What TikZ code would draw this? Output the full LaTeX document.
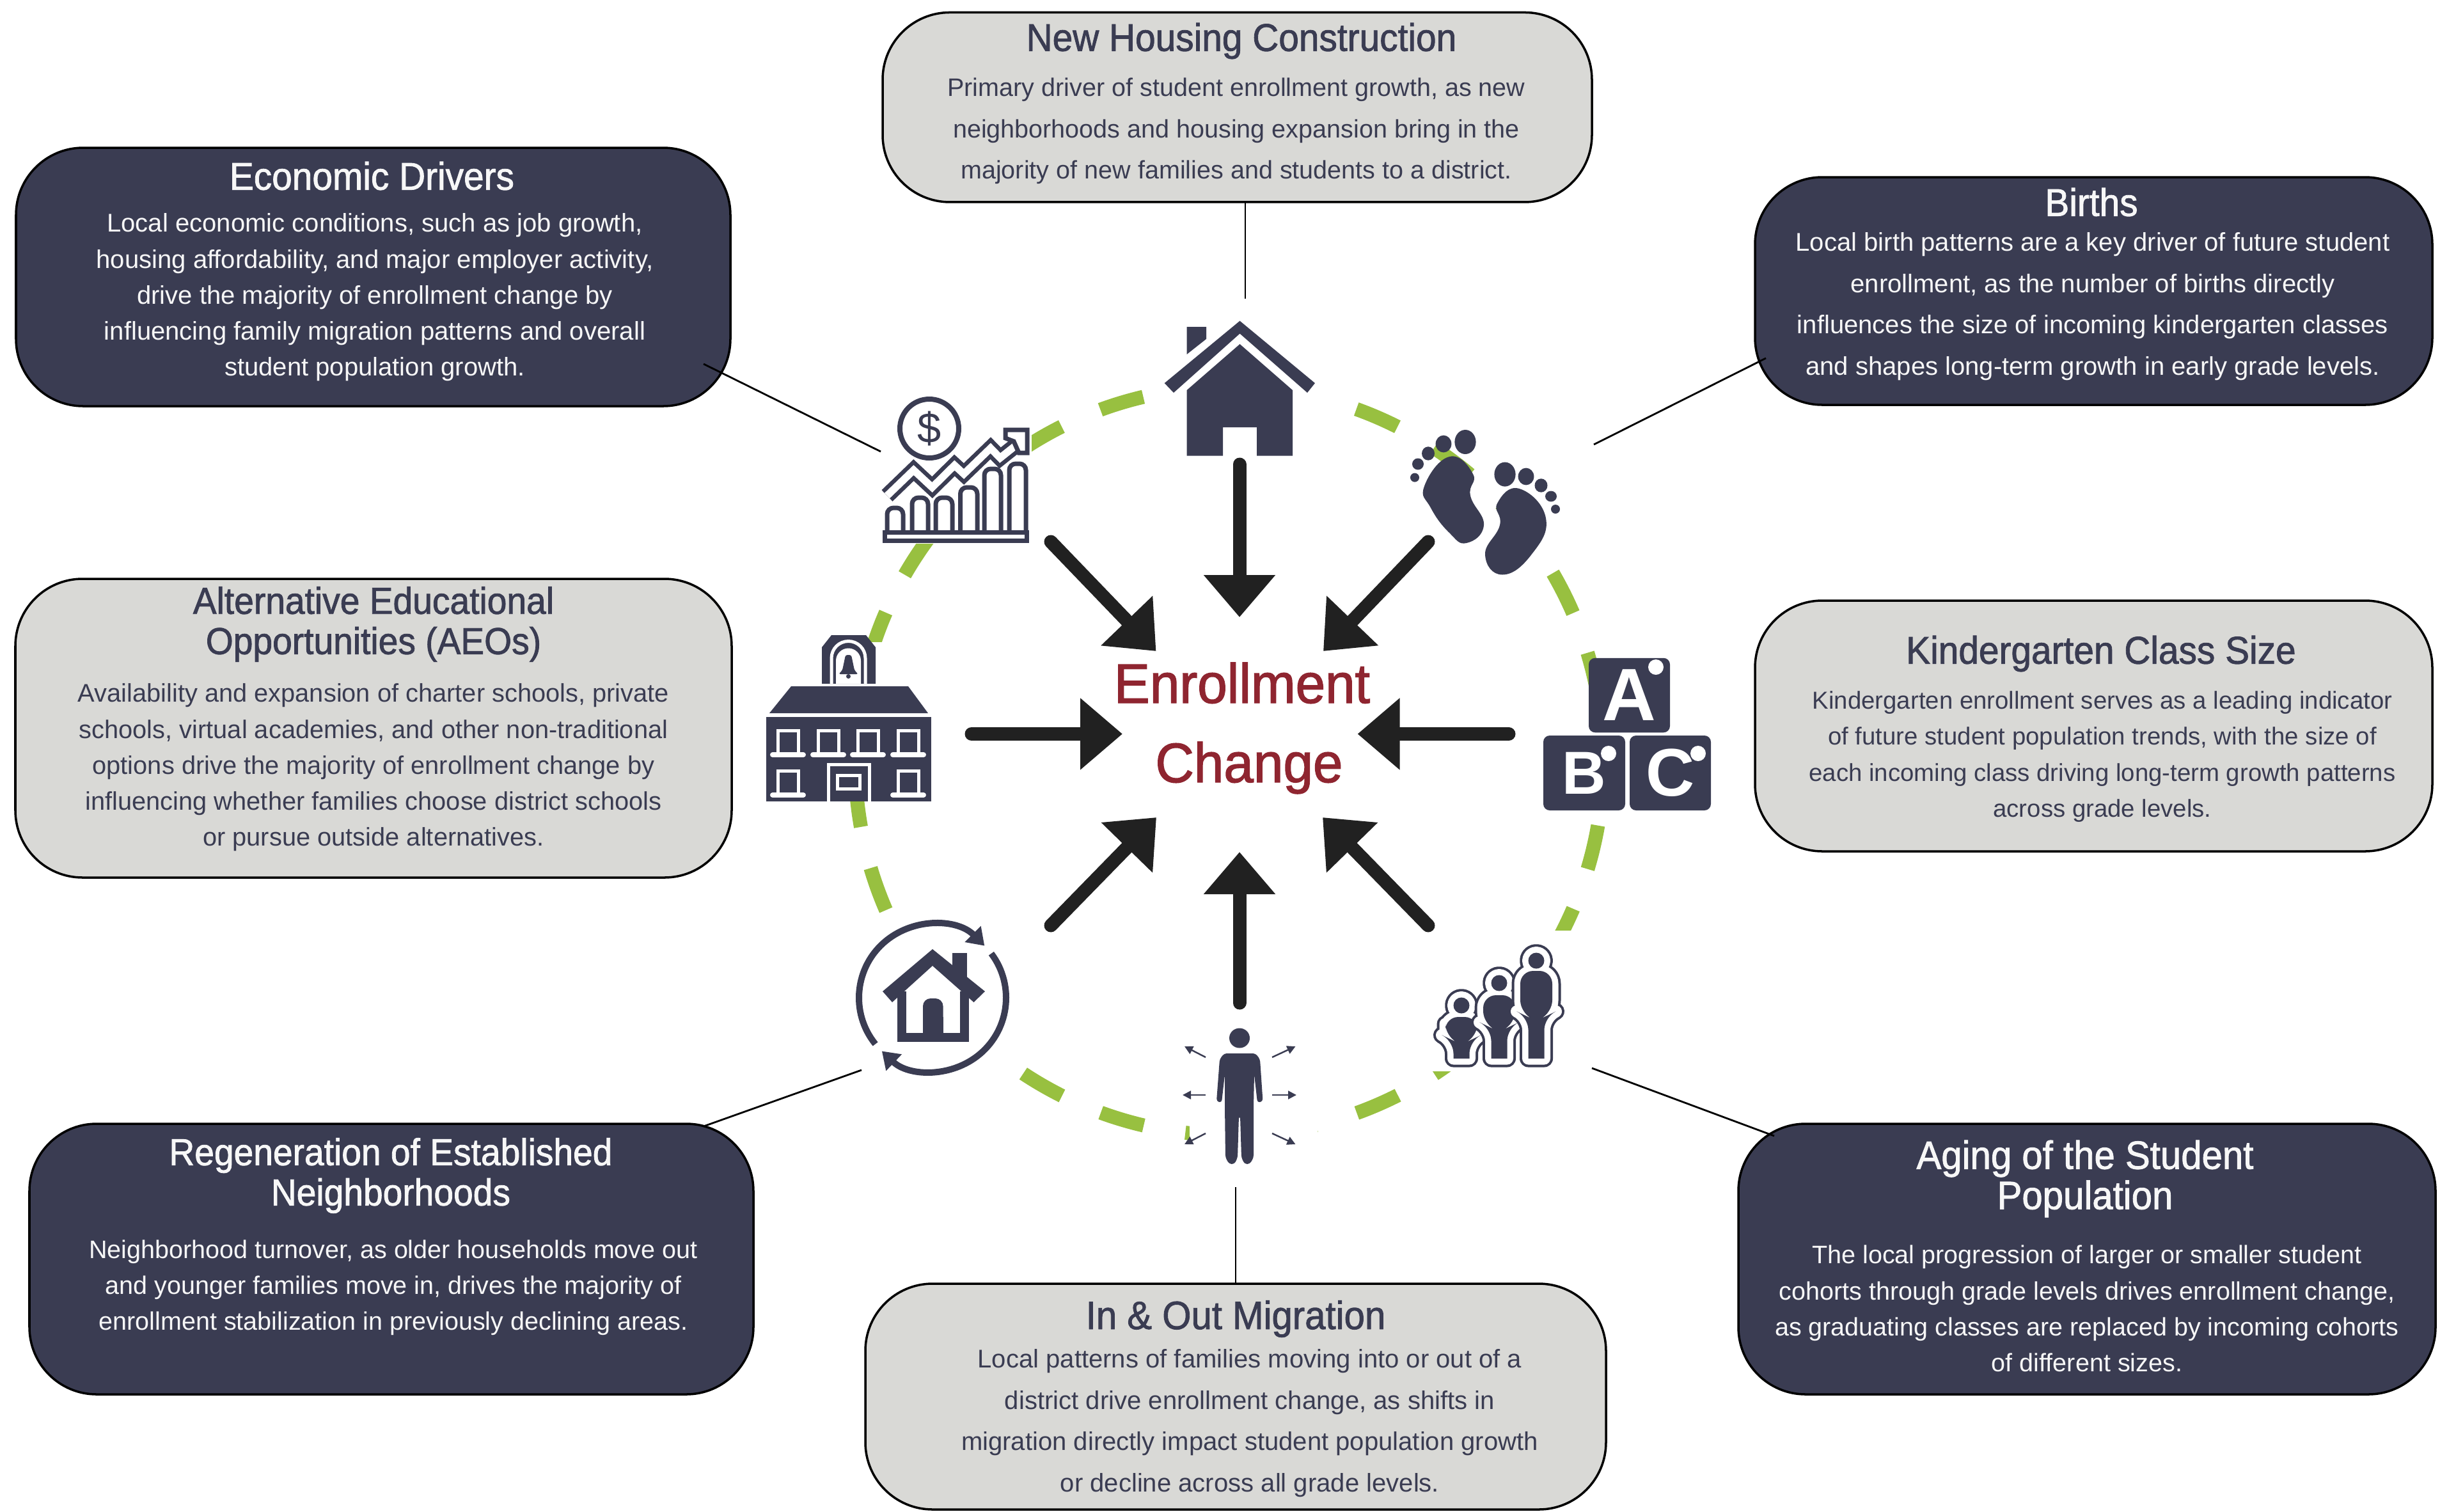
\documentclass[tikz,border=0pt]{standalone}
\usepackage{fontspec}
\setmainfont{Liberation Sans}
\newfontfamily\headfont[FakeStretch=.94,FakeBold=1.4]{Liberation Sans}
\newfontfamily\centrefont[FakeStretch=.96,FakeBold=1.6]{Liberation Sans}
\usetikzlibrary{arrows.meta}
\definecolor{navy}{HTML}{3A3C52}
\definecolor{paleplate}{HTML}{D9D9D6}
\definecolor{ringgreen}{HTML}{98C040}
\definecolor{arrowblack}{HTML}{212121}
\definecolor{wine}{HTML}{8F2530}
\definecolor{paper}{HTML}{F7F7F7}
\tikzset{
  darkbox/.style={draw=black,line width=1pt,fill=navy,rounded corners=1.05cm,inner sep=0},
  lightbox/.style={draw=black,line width=1pt,fill=paleplate,rounded corners=1.05cm,inner sep=0},
  boxtitle/.style={inner sep=0,align=center,font=\headfont\fontsize{#1}{17.9}\selectfont},
  boxtitle/.default=17.2,
  boxbody/.style={inner sep=0,align=center,font=\fontsize{#1}{16}\selectfont},
  boxbody/.default=11.25,
  wideleading/.style={inner sep=0,align=center,font=\fontsize{#1}{18.4}\selectfont},
  wideleading/.default=11.25,
  iconback/.style={fill=white,inner sep=0},
  bigarrow/.style={draw=arrowblack,line width=.21cm,line cap=round,-{Triangle[width=1.08cm,length=.66cm]}},
  wirelink/.style={draw=black,line width=.8pt},
  smallarrow/.style={draw=navy,line width=.7pt,-{Triangle[width=.13cm,length=.13cm]}},
  blockbox/.style={fill=navy,rounded corners=.1cm,inner sep=0,text=white}
}
\newcommand{\famshape}[4]{(#1,#2) circle (.125) (#1-.125,16.55) [rounded corners=.2cm] -- (#1-.125,#4) -- (#1-.25,#4-.06) -- (#1-.25,#3) -- (#1+.25,#3) -- (#1+.25,#4-.06) -- (#1+.125,#4) [sharp corners] -- (#1+.125,16.55) -- cycle}
\begin{document}
\begin{tikzpicture}[yscale=-1]
  \useasboundingbox (0,0) rectangle (38.15,23.63);

  \coordinate (ringcentre) at (19.22,11.90);
  \draw[ringgreen,line width=.22cm,dash pattern=on .70cm off .6613cm,dash phase=.35cm] (ringcentre) circle (5.85);

  % house
  \node[iconback,minimum width=2.47cm,minimum height=2.21cm] (houseicon) at (19.385,6.055) {};
  \fill[navy] (18.556,7.125) -- (18.556,6.10) -- (19.385,5.38) -- (20.21,6.10) -- (20.21,7.125) -- (19.65,7.125) -- (19.65,6.68) -- (19.12,6.68) -- (19.12,7.125) -- cycle;
  \fill[navy] (19.385,5.017) -- (20.56,5.99) -- (20.44,6.14) -- (19.385,5.216) -- (18.35,6.14) -- (18.207,5.99) -- cycle;
  \fill[navy] (18.556,5.11) -- (18.86,5.11) -- (18.86,5.30) -- (18.556,5.54) -- cycle;

  % finance chart
  \node[iconback,minimum width=2.33cm,minimum height=2.35cm] (financeicon) at (14.965,7.325) {};
  \draw[navy,line width=.08cm] (14.53,6.70) circle (.46);
  \node[text=navy,inner sep=0,font=\fontsize{19}{19}\selectfont] (dollarsign) at (14.53,6.70) {\$};
  \draw[navy,line width=.065cm,double=white,double distance=.115cm,line join=miter] (13.87,7.75) -- (14.285,7.35) -- (14.575,7.62) -- (14.924,7.275) -- (15.07,7.41) -- (15.488,7.007) -- (15.637,7.16) -- (15.90,6.95);
  \draw[navy,fill=white,line width=.07cm] (15.72,6.72) -- (16.06,6.72) -- (16.06,7.08) -- (15.93,7.08) -- (15.85,6.90) -- (15.72,6.85) -- cycle;
  \foreach \barl/\barr/\bartop in {13.87/14.12/7.94, 14.26/14.51/7.78, 14.63/14.89/7.78, 15.015/15.28/7.62, 15.39/15.65/7.33, 15.78/16.04/7.25}
    \draw[navy,line width=.07cm,rounded corners=.1cm] (\barl,8.29) -- (\barl,\bartop) -- (\barr,\bartop) -- (\barr,8.29);
  \fill[navy] (13.80,8.29) rectangle (16.09,8.49);
  \fill[white] (13.87,8.36) rectangle (16.02,8.42);

  % footprints
  \fill[navy] plot[smooth cycle,tension=.8] coordinates {(22.66,7.14) (23.03,7.41) (22.99,7.75) (23.20,8.21) (22.93,8.49) (22.66,8.33) (22.37,7.94) (22.27,7.60)};
  \fill[navy] plot[smooth cycle,tension=.8] coordinates {(23.755,7.64) (24.17,8.10) (23.945,8.67) (23.49,8.985) (23.22,8.67) (23.45,8.21) (23.41,7.87)};
  \foreach \toex/\toey/\toerx/\toery in {22.91/6.91/.166/.19, 22.57/6.94/.124/.134, 22.33/7.09/.10/.107, 22.17/7.255/.09/.09, 22.12/7.466/.07/.07,
      23.53/7.416/.166/.19, 23.86/7.45/.124/.134, 24.095/7.59/.10/.107, 24.25/7.76/.09/.084, 24.32/7.96/.07/.07}
    \fill[navy] (\toex,\toey) ellipse [x radius=\toerx,y radius=\toery];

  % school
  \node[iconback,minimum width=2.58cm,minimum height=2.49cm] (schoolicon) at (13.27,11.285) {};
  \fill[navy] (12.85,10.69) -- (12.85,10.12) -- (13.0,9.93) -- (13.54,9.93) -- (13.69,10.12) -- (13.69,10.69) -- cycle;
  \draw[white,line width=.05cm] (13.0,10.69) -- (13.0,10.29) arc[start angle=180,end angle=360,radius=.265] -- (13.53,10.69);
  \fill[white] (13.07,10.69) -- (13.07,10.33) arc[start angle=180,end angle=360,radius=.195] -- (13.46,10.69) -- cycle;
  \fill[navy,rounded corners=.03cm] (13.22,10.24) -- (13.31,10.24) -- (13.36,10.48) -- (13.42,10.54) -- (13.11,10.54) -- (13.17,10.48) -- cycle;
  \fill[navy] (13.265,10.575) circle (.035);
  \fill[navy] (12.37,10.73) -- (14.20,10.73) -- (14.51,11.15) -- (12.03,11.15) -- cycle;
  \fill[navy] (11.98,11.205) rectangle (14.56,12.525);
  \foreach \winx/\winy in {12.32/11.42, 12.95/11.42, 13.57/11.42, 14.20/11.42, 12.32/12.05, 14.20/12.05} {
    \draw[white,line width=.05cm] (\winx-.16,\winy+.38) -- (\winx-.16,\winy) -- (\winx+.16,\winy) -- (\winx+.16,\winy+.38);
    \draw[white,line width=.08cm,line cap=round] (\winx-.24,\winy+.38) -- (\winx+.24,\winy+.38);
  }
  \draw[white,line width=.05cm] (12.95,12.525) -- (12.95,11.95) -- (13.59,11.95) -- (13.59,12.525);
  \draw[white,line width=.05cm] (13.09,12.12) rectangle (13.44,12.33);

  % abc blocks
  \node[blockbox,minimum width=1.27cm,minimum height=1.165cm,font=\bfseries\fontsize{33}{33}\selectfont] (blocka) at (25.475,10.87) {A};
  \node[blockbox,minimum width=1.28cm,minimum height=1.17cm,font=\bfseries\fontsize{27}{27}\selectfont] (blockb) at (24.77,12.085) {B};
  \node[blockbox,minimum width=1.27cm,minimum height=1.17cm,font=\bfseries\fontsize{30}{30}\selectfont] (blockc) at (26.115,12.085) {C};
  \fill[white] (25.89,10.43) circle (.12);
  \fill[white] (25.15,11.78) circle (.12);
  \fill[white] (26.55,11.78) circle (.12);

  % regeneration
  \node[iconback,minimum width=2.35cm,minimum height=2.40cm] (regenicon) at (14.575,15.60) {};
  \coordinate (regencentre) at (14.58,15.60);
  \draw[navy,line width=.10cm,-{Triangle[width=.34cm,length=.26cm]}] (regencentre) ++(-219:1.15) arc[start angle=-219,end angle=-45,radius=1.15];
  \draw[navy,line width=.10cm,-{Triangle[width=.34cm,length=.26cm]}] (regencentre) ++(-37:1.15) arc[start angle=-37,end angle=133.5,radius=1.15];
  \fill[navy] (14.89,14.90) rectangle (15.12,15.45);
  \fill[white] (14.58,15.02) -- (15.45,15.72) -- (15.0,15.8) -- (14.2,15.8) -- (13.72,15.72) -- cycle;
  \fill[navy] (14.58,14.84) -- (15.40,15.50) -- (15.225,15.67) -- (14.58,15.10) -- (13.95,15.67) -- (13.80,15.50) -- cycle;
  \draw[navy,line width=.14cm] (14.10,15.50) -- (14.10,16.22) -- (15.08,16.22) -- (15.08,15.50);
  \fill[navy,rounded corners=.12cm] (14.43,16.18) -- (14.43,15.61) -- (14.745,15.61) -- (14.745,16.18) -- cycle;
  \fill[navy] (14.43,15.9) rectangle (14.745,16.18);

  % person
  \node[iconback,minimum width=2.0cm,minimum height=2.3cm] (personicon) at (19.6,17.15) {};
  \fill[navy] (19.38,16.23) ellipse [x radius=.16,y radius=.155];
  \fill[navy,rounded corners=.04cm] (19.14,16.47) -- (19.63,16.47) -- (19.70,16.56) -- (19.745,17.22) -- (19.66,17.24) -- (19.61,16.80) -- (19.60,17.30) -- (19.60,18.10) -- (19.54,18.20) -- (19.46,18.20) -- (19.41,18.10) -- (19.39,17.45) -- (19.37,17.45) -- (19.35,18.10) -- (19.30,18.20) -- (19.22,18.20) -- (19.16,18.10) -- (19.15,17.30) -- (19.15,16.80) -- (19.10,17.24) -- (19.02,17.22) -- (19.07,16.56) -- cycle;
  \foreach \sfx/\sfy/\stx/\sty [count=\sn] in {18.85/17.12/18.49/17.12, 19.89/17.12/20.27/17.12, 18.85/16.53/18.52/16.36, 19.89/16.53/20.255/16.36, 18.85/17.72/18.52/17.89, 19.89/17.72/20.255/17.89} {
    \coordinate (sfrom\sn) at (\sfx,\sfy);
    \coordinate (sto\sn) at (\stx,\sty);
    \draw[smallarrow] (sfrom\sn) -- (sto\sn);
  }

  % family
  \node[iconback,minimum width=2.35cm,minimum height=2.2cm] (familyicon) at (23.525,15.65) {};
  \foreach \famx/\famh/\famt/\famb in {22.85/15.72/15.90/16.27, 23.44/15.37/15.56/16.07, 24.02/15.02/15.18/15.90} {
    \draw[navy,line width=.27cm,line join=round] \famshape{\famx}{\famh}{\famt}{\famb};
    \draw[white,line width=.19cm,line join=round] \famshape{\famx}{\famh}{\famt}{\famb};
    \fill[navy] \famshape{\famx}{\famh}{\famt}{\famb};
  }

  % centre
  \node[text=wine,anchor=base,inner sep=0,font=\centrefont\fontsize{24.8}{24.8}\selectfont] (enrolltext) at (19.42,10.99) {Enrollment};
  \node[text=wine,anchor=base,inner sep=0,font=\centrefont\fontsize{24.8}{24.8}\selectfont] (changetext) at (19.53,12.23) {Change};

  \coordinate (fromhouse) at (19.38,7.26);
  \coordinate (tohouse) at (19.38,9.65);
  \coordinate (fromfinance) at (16.43,8.47);
  \coordinate (tofinance) at (18.075,10.18);
  \coordinate (fromfeet) at (22.33,8.47);
  \coordinate (tofeet) at (20.69,10.18);
  \coordinate (fromschool) at (15.19,11.475);
  \coordinate (toschool) at (17.55,11.475);
  \coordinate (fromblocks) at (23.59,11.475);
  \coordinate (toblocks) at (21.225,11.475);
  \coordinate (fromregen) at (16.43,14.47);
  \coordinate (toregen) at (18.08,12.78);
  \coordinate (fromfamily) at (22.33,14.47);
  \coordinate (tofamily) at (20.68,12.78);
  \coordinate (fromperson) at (19.38,15.68);
  \coordinate (toperson) at (19.38,13.32);
  \draw[bigarrow] (fromhouse) -- (tohouse);
  \draw[bigarrow] (fromfinance) -- (tofinance);
  \draw[bigarrow] (fromfeet) -- (tofeet);
  \draw[bigarrow] (fromschool) -- (toschool);
  \draw[bigarrow] (fromblocks) -- (toblocks);
  \draw[bigarrow] (fromregen) -- (toregen);
  \draw[bigarrow] (fromfamily) -- (tofamily);
  \draw[bigarrow] (fromperson) -- (toperson);

  % boxes
  \node[lightbox,minimum width=11.09cm,minimum height=2.965cm] (housingbox) at (19.345,1.677) {};
  \node[boxtitle,text=navy] (housingtitle) at (19.41,.64) {New Housing Construction};
  \node[wideleading,text=navy] (housingbody) at (19.33,2.05) {Primary driver of student enrollment growth, as new\\neighborhoods and housing expansion bring in the\\majority of new families and students to a district.};

  \node[darkbox,minimum width=11.17cm,minimum height=4.04cm] (econbox) at (5.835,4.33) {};
  \node[boxtitle,text=paper] (econtitle) at (5.815,2.75) {Economic Drivers};
  \node[boxbody=11.4,text=paper] (econbody) at (5.86,4.65) {Local economic conditions, such as job growth,\\housing affordability, and major employer activity,\\drive the majority of enrollment change by\\influencing family migration patterns and overall\\student population growth.};

  \node[darkbox,minimum width=10.59cm,minimum height=3.56cm] (birthbox) at (32.735,4.55) {};
  \node[boxtitle,text=paper] (birthtitle) at (32.70,3.16) {Births};
  \node[wideleading=11.4,text=paper] (birthbody) at (32.72,4.79) {Local birth patterns are a key driver of future student\\enrollment, as the number of births directly\\influences the size of incoming kindergarten classes\\and shapes long-term growth in early grade levels.};

  \node[lightbox,minimum width=11.20cm,minimum height=4.67cm] (aeobox) at (5.84,11.385) {};
  \node[boxtitle=16.7,text=navy] (aeotitle) at (5.84,9.76) {Alternative Educational\\Opportunities (AEOs)};
  \node[boxbody=11.33,text=navy] (aeobody) at (5.84,12.00) {Availability and expansion of charter schools, private\\schools, virtual academies, and other non-traditional\\options drive the majority of enrollment change by\\influencing whether families choose district schools\\or pursue outside alternatives.};

  \node[lightbox,minimum width=10.59cm,minimum height=3.92cm] (kinderbox) at (32.735,11.35) {};
  \node[boxtitle,text=navy] (kindertitle) at (32.85,10.22) {Kindergarten Class Size};
  \node[boxbody=10.92,text=navy] (kinderbody) at (32.87,11.83) {Kindergarten enrollment serves as a leading indicator\\of future student population trends, with the size of\\each incoming class driving long-term growth patterns\\across grade levels.};

  \node[darkbox,minimum width=11.32cm,minimum height=4.23cm] (regenbox) at (6.12,19.685) {};
  \node[boxtitle=16.7,text=paper] (regentitle) at (6.11,18.38) {Regeneration of Established\\Neighborhoods};
  \node[boxbody,text=paper] (regenbody) at (6.15,20.13) {Neighborhood turnover, as older households move out\\and younger families move in, drives the majority of\\enrollment stabilization in previously declining areas.};

  \node[darkbox,minimum width=10.90cm,minimum height=4.23cm] (agingbox) at (32.63,19.685) {};
  \node[boxtitle=17.6,text=paper] (agingtitle) at (32.60,18.43) {Aging of the Student\\Population};
  \node[boxbody,text=paper] (agingbody) at (32.63,20.46) {The local progression of larger or smaller student\\cohorts through grade levels drives enrollment change,\\as graduating classes are replaced by incoming cohorts\\of different sizes.};

  \node[lightbox,minimum width=11.58cm,minimum height=3.53cm] (migrationbox) at (19.32,21.835) {};
  \node[boxtitle=17.6,text=navy] (migrationtitle) at (19.32,20.62) {In \& Out Migration};
  \node[wideleading=11.4,text=navy] (migrationbody) at (19.54,22.25) {Local patterns of families moving into or out of a\\district drive enrollment change, as shifts in\\migration directly impact student population growth\\or decline across all grade levels.};

  % links
  \coordinate (houselink) at (19.47,4.67);
  \coordinate (housinglink) at (19.47,3.16);
  \coordinate (financelink) at (13.77,7.06);
  \coordinate (econlink) at (11.00,5.69);
  \coordinate (feetlink) at (24.92,6.95);
  \coordinate (birthlink) at (27.61,5.60);
  \coordinate (regeniconlink) at (13.47,16.73);
  \coordinate (regenlink) at (11.00,17.61);
  \coordinate (familylink) at (24.89,16.70);
  \coordinate (aginglink) at (27.74,17.76);
  \coordinate (personlink) at (19.32,18.56);
  \coordinate (migrationlink) at (19.32,20.07);
  \draw[wirelink] (housinglink) -- (houselink);
  \draw[wirelink] (econlink) -- (financelink);
  \draw[wirelink] (birthlink) -- (feetlink);
  \draw[wirelink] (regenlink) -- (regeniconlink);
  \draw[wirelink] (aginglink) -- (familylink);
  \draw[wirelink] (migrationlink) -- (personlink);
\end{tikzpicture}
\end{document}
